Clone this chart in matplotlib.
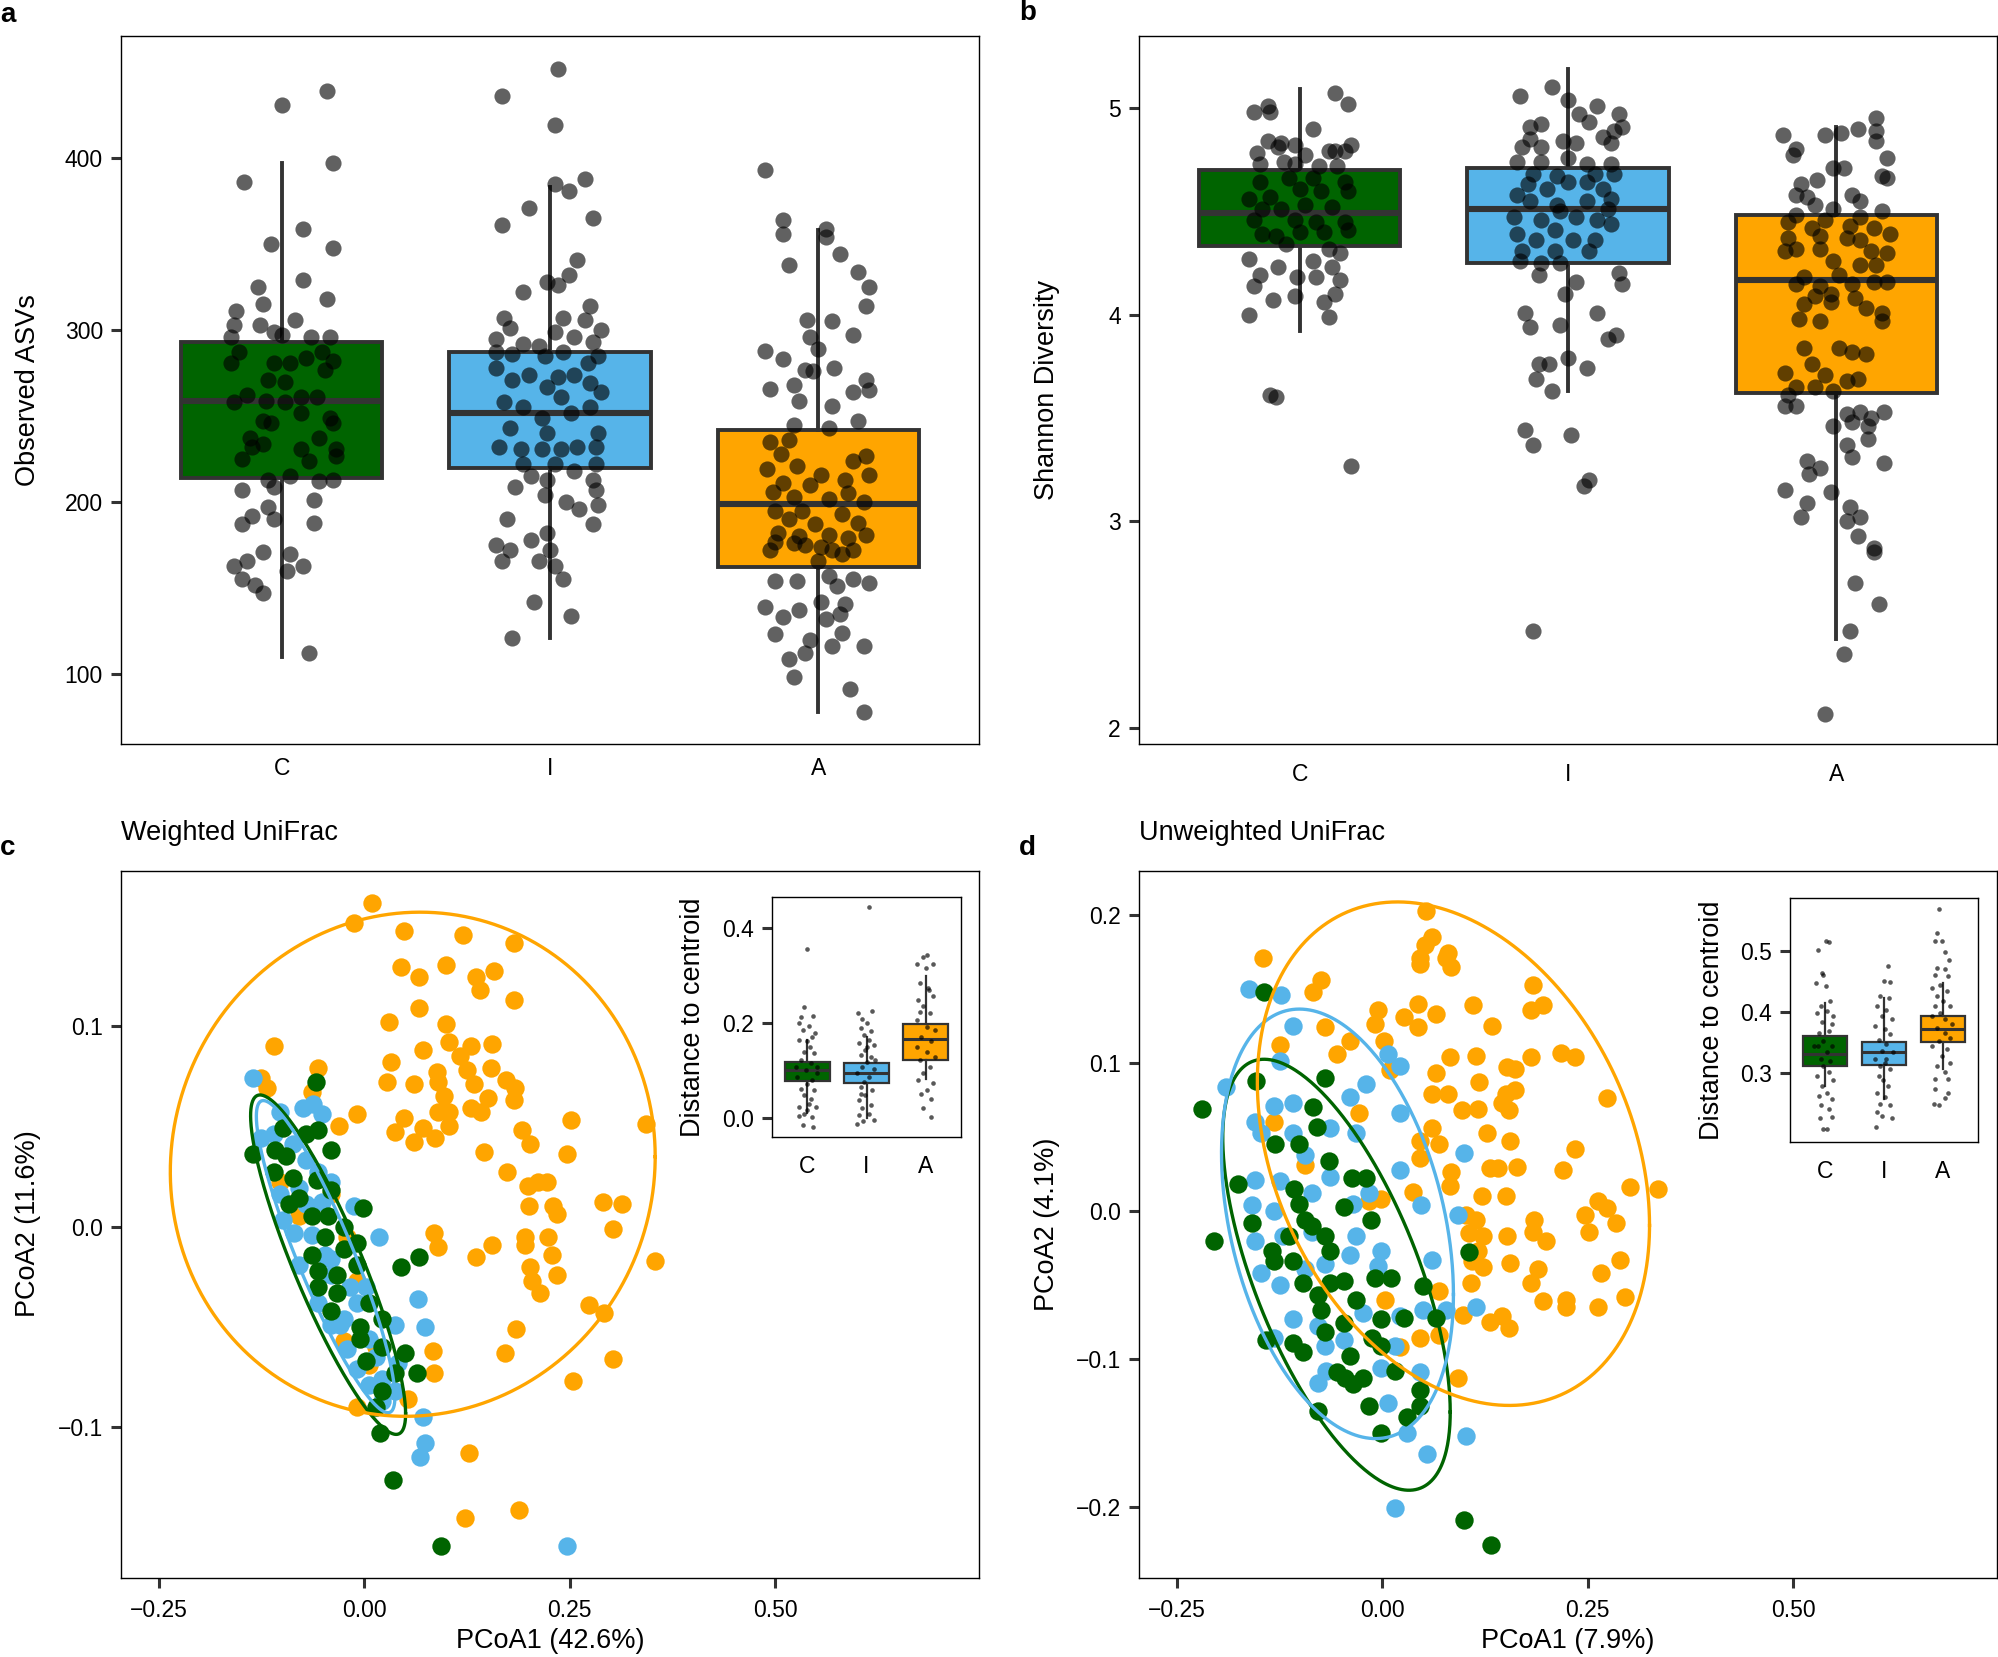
import numpy as np
import matplotlib.pyplot as plt

plt.rcParams['font.family'] = ['Liberation Sans', 'DejaVu Sans']

W, H = 1998, 1657
groups = ["C", "I", "A"]
colors = ["#006400", "#56B4E9", "#FFA500"]
edge = "#333333"

# box statistics per group: (lower whisker, q1, median, q3, upper whisker)
asv_box = [(110, 214, 259, 293, 397), (121, 220, 252, 287, 383), (78, 162, 199, 242, 358)]
shan_box = [(3.92, 4.33, 4.49, 4.70, 5.09), (3.63, 4.25, 4.51, 4.71, 5.19), (2.43, 3.62, 4.17, 4.48, 4.91)]
wdist_box = [(0.01, 0.078, 0.101, 0.118, 0.164), (0.0, 0.073, 0.094, 0.115, 0.17), (0.083, 0.123, 0.166, 0.197, 0.299)]
udist_box = [(0.279, 0.311, 0.331, 0.360, 0.415), (0.258, 0.314, 0.335, 0.351, 0.423), (0.307, 0.351, 0.372, 0.393, 0.448)]

# samples as (jitter, value)
asv_C = [(0.00,431),(0.17,439),(0.19,397),(-0.14,386),(0.08,359),(-0.04,350),(0.19,348),(0.08,329),(-0.09,325),(-0.07,315),(0.17,318),(-0.17,311),(0.05,306),(-0.18,303),(-0.08,303),(-0.19,296),(-0.03,299),(0.00,297),(0.11,296),(0.18,296),(-0.16,287),(0.15,287),(-0.19,281),(-0.03,281),(0.03,281),(0.09,284),(0.19,282),(-0.05,271),(0.01,270),(0.16,277),(-0.13,262),(-0.18,258),(-0.06,259),(0.01,258),(0.07,261),(0.13,261),(0.18,249),(-0.07,247),(0.07,252),(0.19,246),(-0.04,246),(-0.12,237),(0.14,237),(-0.11,232),(-0.07,234),(0.07,231),(0.20,231),(-0.15,225),(0.10,224),(0.20,227),(0.03,215),(-0.05,213),(0.19,213),(0.14,212),(-0.15,207),(-0.03,209),(0.12,201),(-0.05,197),(-0.11,192),(-0.15,187),(-0.03,190),(0.12,188),(-0.07,171),(0.03,170),(-0.18,163),(-0.13,166),(0.08,163),(0.02,160),(-0.15,155),(-0.10,152),(-0.07,147),(0.10,112)]
asv_I = [(0.03,452),(-0.18,436),(0.02,419),(0.13,388),(0.02,385),(0.07,381),(-0.08,371),(-0.18,361),(0.16,365),(0.10,341),(0.07,332),(-0.01,328),(0.03,326),(-0.10,322),(0.15,314),(0.05,307),(0.13,306),(-0.17,307),(0.19,300),(-0.15,301),(0.02,299),(-0.20,295),(0.09,296),(-0.10,292),(-0.04,291),(0.16,293),(-0.20,287),(-0.14,286),(0.18,285),(-0.02,285),(0.05,287),(0.14,281),(-0.20,278),(-0.08,274),(0.03,273),(0.09,274),(-0.14,271),(-0.01,267),(0.19,264),(0.15,269),(-0.17,258),(-0.10,255),(0.04,261),(0.15,255),(-0.03,249),(0.08,252),(-0.15,243),(-0.01,240),(0.18,240),(-0.19,232),(-0.11,231),(-0.03,231),(0.04,231),(0.10,232),(0.17,232),(-0.10,222),(0.02,222),(0.09,218),(0.17,222),(-0.07,215),(-0.01,213),(0.16,213),(-0.13,209),(-0.02,204),(0.17,207),(0.06,200),(0.18,198),(0.11,196),(-0.16,190),(0.16,187),(-0.01,182),(-0.20,175),(-0.15,172),(-0.07,178),(0.00,172),(-0.04,166),(-0.18,166),(0.02,163),(0.05,155),(-0.06,142),(0.08,134),(-0.14,121)]
asv_A = [(-0.20,393),(-0.13,364),(-0.13,356),(0.03,359),(0.03,354),(0.08,344),(-0.11,338),(0.15,334),(0.19,325),(0.18,314),(-0.04,306),(0.05,305),(0.13,297),(-0.03,296),(0.00,289),(-0.20,288),(-0.13,283),(-0.05,277),(-0.02,276),(0.06,278),(0.18,271),(-0.18,266),(-0.09,268),(0.13,264),(0.19,265),(-0.07,259),(0.05,256),(0.15,247),(-0.09,245),(0.04,243),(-0.11,236),(-0.18,235),(0.18,227),(-0.14,228),(0.13,224),(-0.19,219),(-0.08,221),(0.01,216),(0.19,216),(-0.13,211),(-0.03,210),(0.10,213),(-0.17,206),(-0.09,203),(0.04,202),(0.11,205),(0.17,200),(-0.16,195),(-0.06,195),(0.09,193),(-0.11,190),(-0.01,187),(0.15,188),(-0.15,182),(-0.07,180),(0.04,181),(0.11,179),(0.18,181),(-0.16,177),(-0.09,176),(0.01,174),(0.09,170),(-0.18,172),(-0.05,175),(0.05,172),(0.13,172),(0.00,166),(-0.08,154),(-0.16,154),(0.07,151),(0.19,153),(0.04,157),(0.13,155),(-0.20,139),(-0.07,137),(0.01,142),(0.10,141),(-0.13,133),(0.03,132),(0.08,135),(-0.16,123),(0.09,124),(-0.03,120),(0.05,116),(0.17,116),(-0.05,112),(-0.11,109),(-0.09,98),(0.12,91),(0.17,78)]

shan_C = [(0.13,5.07),(0.18,5.02),(-0.12,5.01),(-0.17,4.98),(-0.11,4.98),(0.05,4.90),(-0.12,4.84),(-0.07,4.83),(-0.02,4.82),(0.19,4.82),(-0.16,4.78),(-0.08,4.81),(0.13,4.79),(0.02,4.77),(0.11,4.79),(0.17,4.79),(-0.15,4.73),(-0.06,4.74),(-0.02,4.73),(0.07,4.72),(0.14,4.72),(-0.15,4.64),(-0.04,4.66),(0.05,4.66),(0.17,4.64),(-0.19,4.56),(-0.11,4.57),(0.00,4.61),(0.08,4.60),(0.18,4.60),(-0.14,4.51),(-0.07,4.51),(0.02,4.53),(0.12,4.52),(-0.17,4.46),(-0.02,4.46),(0.06,4.45),(0.17,4.45),(-0.14,4.39),(-0.09,4.38),(0.00,4.40),(0.09,4.40),(0.18,4.41),(-0.05,4.34),(0.11,4.32),(-0.19,4.27),(0.15,4.30),(0.05,4.26),(-0.08,4.23),(0.12,4.23),(-0.15,4.19),(-0.01,4.18),(0.06,4.18),(0.15,4.17),(-0.17,4.14),(0.13,4.10),(-0.02,4.09),(-0.10,4.07),(0.09,4.06),(-0.19,4.00),(0.11,3.99),(-0.11,3.61),(-0.09,3.60),(0.19,3.27)]
shan_I = [(-0.06,5.10),(-0.18,5.06),(0.00,5.04),(0.11,5.01),(0.04,4.97),(0.19,4.97),(-0.14,4.91),(-0.10,4.92),(0.08,4.93),(0.17,4.89),(0.20,4.91),(-0.14,4.85),(-0.02,4.84),(0.13,4.86),(-0.17,4.81),(-0.10,4.81),(0.03,4.83),(0.16,4.83),(-0.19,4.74),(-0.10,4.74),(0.00,4.76),(0.07,4.73),(0.16,4.73),(-0.13,4.68),(-0.04,4.67),(0.10,4.68),(0.17,4.68),(-0.19,4.58),(-0.15,4.63),(-0.08,4.61),(0.00,4.64),(0.07,4.64),(0.13,4.61),(0.16,4.56),(-0.14,4.55),(-0.04,4.53),(0.07,4.55),(0.15,4.51),(-0.20,4.47),(-0.10,4.46),(-0.03,4.50),(0.03,4.47),(0.11,4.46),(0.16,4.44),(-0.19,4.39),(-0.12,4.36),(-0.05,4.41),(0.02,4.36),(0.10,4.36),(-0.17,4.31),(-0.05,4.31),(0.08,4.31),(-0.18,4.26),(-0.10,4.25),(-0.03,4.25),(-0.11,4.19),(0.03,4.16),(0.19,4.20),(0.20,4.15),(-0.01,4.10),(-0.16,4.01),(0.11,4.01),(-0.14,3.94),(-0.03,3.95),(0.18,3.90),(0.15,3.88),(0.00,3.79),(-0.11,3.76),(-0.07,3.76),(0.07,3.74),(-0.12,3.69),(-0.06,3.63),(-0.16,3.44),(-0.13,3.37),(0.01,3.42),(0.08,3.20),(0.06,3.17),(-0.13,2.47)]
shan_A = [(0.15,4.95),(0.15,4.89),(-0.20,4.87),(-0.04,4.87),(0.02,4.88),(0.08,4.90),(0.15,4.84),(-0.15,4.80),(-0.16,4.77),(0.19,4.76),(-0.01,4.71),(0.03,4.71),(0.17,4.67),(0.19,4.66),(-0.13,4.63),(-0.07,4.65),(-0.15,4.58),(-0.11,4.57),(0.06,4.58),(0.09,4.55),(-0.08,4.53),(-0.01,4.51),(0.17,4.50),(-0.15,4.48),(-0.04,4.46),(0.09,4.47),(-0.18,4.45),(-0.09,4.42),(0.05,4.43),(0.14,4.42),(0.20,4.39),(-0.18,4.37),(-0.06,4.38),(0.04,4.37),(0.09,4.36),(-0.15,4.32),(-0.19,4.31),(-0.06,4.32),(0.13,4.31),(0.19,4.30),(-0.01,4.26),(0.09,4.24),(0.15,4.24),(-0.12,4.18),(0.01,4.19),(0.19,4.16),(-0.15,4.15),(-0.06,4.14),(0.06,4.15),(0.14,4.16),(-0.02,4.10),(-0.12,4.05),(-0.02,4.06),(0.07,4.08),(-0.08,4.09),(0.11,4.03),(0.17,4.01),(-0.14,3.98),(-0.06,3.97),(0.17,3.97),(-0.12,3.84),(0.01,3.84),(0.06,3.82),(0.11,3.81),(-0.09,3.76),(-0.19,3.72),(-0.04,3.71),(0.08,3.69),(-0.15,3.65),(-0.08,3.65),(0.04,3.68),(-0.18,3.61),(-0.01,3.63),(-0.19,3.56),(-0.15,3.56),(0.09,3.53),(0.04,3.52),(0.18,3.53),(0.13,3.50),(-0.01,3.46),(0.06,3.48),(0.12,3.46),(0.04,3.37),(0.12,3.40),(0.06,3.31),(-0.11,3.29),(0.18,3.28),(-0.06,3.26),(-0.10,3.23),(-0.19,3.15),(-0.02,3.14),(-0.11,3.09),(-0.13,3.02),(0.05,3.07),(0.09,3.02),(0.04,3.00),(0.08,2.93),(0.14,2.87),(0.14,2.85),(0.07,2.70),(0.16,2.60),(0.05,2.47),(0.03,2.36),(-0.04,2.07)]

# PCoA coordinates (PCoA1, PCoA2)
wu_C = [(-0.059,0.072),(-0.056,0.048),(-0.099,0.049),(-0.040,0.038),(-0.109,0.038),(-0.135,0.036),(-0.110,0.027),(-0.058,0.023),(-0.087,0.024),(-0.040,0.018),(-0.091,0.011),(-0.002,0.009),(-0.064,0.005),(-0.025,0.000),(-0.048,-0.005),(-0.025,-0.011),(0.067,-0.015),(0.045,-0.020),(-0.056,-0.022),(-0.033,-0.024),(-0.009,-0.019),(-0.056,-0.030),(0.006,-0.038),(-0.040,-0.042),(-0.005,-0.050),(0.022,-0.060),(-0.005,-0.056),(0.002,-0.067),(0.064,-0.073),(0.050,-0.063),(0.022,-0.082),(0.019,-0.103),(0.035,-0.126),(0.093,-0.159),(-0.064,-0.014),(-0.079,0.014),(-0.095,0.035),(-0.009,-0.008),(-0.033,-0.033),(0.022,-0.046),(0.037,-0.073),(0.014,-0.090),(-0.071,0.046),(-0.044,0.005)]
wu_I = [(-0.135,0.074),(-0.062,0.061),(-0.074,0.059),(-0.052,0.056),(-0.110,0.046),(-0.126,0.044),(-0.087,0.041),(-0.071,0.033),(-0.056,0.027),(-0.102,0.016),(-0.079,0.019),(-0.040,0.022),(-0.085,-0.003),(-0.064,-0.004),(-0.048,-0.014),(0.018,-0.005),(-0.079,-0.019),(-0.040,-0.024),(-0.017,-0.030),(-0.056,-0.038),(-0.025,-0.046),(-0.040,-0.049),(0.006,-0.056),(0.014,-0.065),(-0.029,-0.049),(-0.009,-0.071),(0.006,-0.079),(0.037,-0.082),(0.022,-0.087),(0.065,-0.036),(0.074,-0.050),(0.041,-0.068),(0.072,-0.095),(0.074,-0.108),(0.068,-0.115),(0.247,-0.159),(-0.013,0.010),(-0.052,0.012),(-0.099,0.003),(-0.040,-0.016),(-0.009,-0.038),(0.022,-0.076),(-0.102,0.057),(-0.071,0.011),(0.002,-0.030),(0.037,-0.049),(-0.021,-0.061)]
wu_A = [(0.009,0.161),(-0.012,0.151),(0.048,0.147),(0.120,0.145),(0.182,0.141),(0.045,0.129),(0.100,0.130),(0.067,0.124),(0.136,0.124),(0.158,0.127),(0.141,0.118),(0.182,0.113),(0.067,0.109),(0.030,0.102),(0.099,0.101),(-0.110,0.090),(0.071,0.088),(0.103,0.092),(0.130,0.090),(0.155,0.091),(0.116,0.085),(0.033,0.082),(0.125,0.078),(0.088,0.077),(0.154,0.079),(-0.126,0.074),(-0.056,0.079),(0.028,0.072),(0.061,0.071),(0.090,0.072),(0.134,0.071),(0.173,0.073),(0.183,0.069),(-0.118,0.069),(0.097,0.065),(0.150,0.064),(0.182,0.063),(-0.064,0.067),(-0.009,0.056),(0.048,0.054),(0.090,0.057),(0.103,0.057),(0.130,0.059),(0.142,0.057),(0.252,0.053),(-0.031,0.050),(0.038,0.047),(0.072,0.049),(0.103,0.050),(0.192,0.048),(0.343,0.051),(0.061,0.042),(0.086,0.044),(0.202,0.041),(0.146,0.037),(0.247,0.036),(0.174,0.027),(0.199,0.020),(0.212,0.022),(0.222,0.022),(0.200,0.010),(0.230,0.010),(0.235,0.006),(0.290,0.012),(0.313,0.011),(0.303,-0.001),(0.085,-0.003),(0.090,-0.010),(0.136,-0.015),(0.155,-0.009),(0.196,-0.005),(0.196,-0.009),(0.224,-0.005),(0.228,-0.014),(0.354,-0.017),(0.202,-0.020),(0.234,-0.024),(0.204,-0.027),(0.214,-0.033),(0.274,-0.039),(0.292,-0.043),(0.185,-0.051),(0.084,-0.062),(0.171,-0.063),(0.303,-0.066),(0.085,-0.073),(0.254,-0.077),(0.128,-0.113),(0.123,-0.145),(0.188,-0.141),(-0.102,0.022),(-0.079,0.005),(-0.021,-0.005),(-0.009,-0.027),(-0.025,-0.057),(-0.040,0.016),(0.014,-0.060),(-0.009,-0.090),(0.053,-0.086),(0.006,-0.069)]

uu_C = [(-0.219,0.069),(-0.144,0.148),(-0.070,0.090),(-0.154,0.088),(-0.084,0.070),(-0.080,0.057),(-0.130,0.045),(-0.101,0.045),(-0.065,0.034),(-0.176,0.018),(-0.107,0.015),(-0.037,0.022),(-0.020,0.022),(-0.101,0.005),(-0.047,0.003),(-0.014,-0.006),(-0.159,-0.008),(-0.205,-0.020),(-0.134,-0.027),(-0.086,-0.010),(-0.070,-0.017),(-0.132,-0.034),(-0.063,-0.027),(-0.109,-0.034),(-0.047,-0.047),(-0.097,-0.049),(-0.063,-0.049),(-0.009,-0.045),(0.011,-0.045),(0.049,-0.051),(-0.078,-0.057),(-0.074,-0.067),(-0.032,-0.060),(-0.001,-0.073),(0.026,-0.072),(0.065,-0.072),(-0.142,-0.087),(-0.109,-0.089),(-0.070,-0.082),(-0.097,-0.095),(-0.039,-0.098),(-0.001,-0.091),(-0.055,-0.109),(-0.024,-0.113),(0.015,-0.108),(0.046,-0.121),(-0.036,-0.117),(-0.078,-0.135),(-0.016,-0.132),(0.030,-0.139),(-0.001,-0.150),(0.046,-0.132),(0.106,-0.028),(0.100,-0.209),(0.132,-0.226),(-0.045,-0.113),(-0.094,-0.006),(-0.113,-0.017),(-0.047,-0.076),(-0.012,-0.086)]
uu_I = [(-0.162,0.150),(-0.123,0.146),(-0.109,0.125),(-0.125,0.101),(-0.190,0.084),(-0.109,0.073),(-0.155,0.060),(-0.148,0.053),(-0.039,0.077),(-0.020,0.086),(0.007,0.106),(0.021,0.098),(0.021,0.066),(-0.063,0.056),(-0.032,0.053),(-0.109,0.053),(-0.094,0.038),(-0.155,0.021),(-0.125,0.020),(0.022,0.028),(0.100,0.039),(-0.159,0.004),(-0.132,0.000),(-0.086,0.012),(-0.036,0.005),(-0.016,0.012),(0.047,0.004),(0.092,-0.003),(-0.155,-0.020),(-0.121,-0.017),(-0.148,-0.042),(-0.125,-0.050),(-0.094,-0.039),(-0.039,-0.030),(-0.001,-0.027),(-0.005,-0.037),(0.061,-0.033),(-0.070,-0.036),(-0.109,-0.073),(-0.078,-0.078),(-0.024,-0.069),(0.022,-0.071),(0.049,-0.067),(0.077,-0.067),(-0.132,-0.086),(-0.070,-0.091),(-0.047,-0.087),(-0.001,-0.106),(0.015,-0.091),(0.046,-0.109),(-0.069,-0.108),(-0.078,-0.116),(0.007,-0.130),(0.030,-0.150),(0.055,-0.164),(0.102,-0.152),(0.015,-0.201),(0.114,-0.065),(-0.032,-0.017),(-0.086,-0.014),(-0.132,0.071),(-0.063,0.023)]
uu_A = [(0.053,0.203),(0.061,0.185),(0.052,0.180),(0.080,0.174),(0.077,0.171),(0.046,0.171),(0.084,0.165),(0.046,0.167),(-0.145,0.171),(-0.074,0.156),(-0.084,0.148),(0.183,0.153),(0.196,0.139),(0.181,0.136),(0.043,0.140),(0.065,0.133),(-0.005,0.136),(0.111,0.139),(0.133,0.125),(0.026,0.131),(0.043,0.124),(-0.009,0.126),(0.002,0.115),(-0.125,0.112),(-0.070,0.124),(-0.039,0.115),(-0.055,0.106),(0.083,0.104),(0.114,0.105),(0.181,0.104),(0.217,0.107),(0.235,0.104),(0.009,0.095),(0.065,0.093),(0.152,0.097),(0.162,0.096),(0.118,0.087),(0.061,0.079),(0.080,0.079),(0.150,0.079),(0.162,0.082),(0.274,0.076),(-0.028,0.066),(0.097,0.068),(0.117,0.069),(0.154,0.068),(0.146,0.073),(0.061,0.056),(0.127,0.053),(0.046,0.047),(0.069,0.045),(0.156,0.047),(0.234,0.042),(0.046,0.036),(0.220,0.028),(0.084,0.026),(0.131,0.029),(0.141,0.029),(0.164,0.030),(0.301,0.016),(0.336,0.015),(0.083,0.017),(0.121,0.010),(0.150,0.010),(0.038,0.013),(-0.016,0.007),(-0.001,0.008),(0.262,0.007),(0.274,0.002),(0.247,-0.003),(0.285,-0.008),(0.102,-0.003),(0.114,-0.006),(0.185,-0.006),(0.183,-0.014),(0.251,-0.014),(0.199,-0.020),(0.106,-0.015),(0.123,-0.017),(0.152,-0.017),(0.117,-0.027),(0.156,-0.035),(0.109,-0.034),(0.123,-0.038),(0.189,-0.039),(0.181,-0.049),(0.266,-0.042),(0.289,-0.033),(0.108,-0.049),(0.003,-0.060),(0.069,-0.054),(0.195,-0.061),(0.224,-0.060),(0.224,-0.065),(0.262,-0.065),(0.295,-0.058),(0.098,-0.070),(0.131,-0.075),(0.154,-0.079),(0.146,-0.071),(0.046,-0.086),(0.069,-0.084),(0.022,-0.092),(0.092,-0.113),(-0.132,0.060),(-0.094,0.031)]

# confidence ellipses: (centre x, centre y, half-extent x, half-extent y, correlation)
wu_ell = [(-0.044, -0.019, 0.0943, 0.0845, -0.878), (-0.047, -0.015, 0.0843, 0.0777, -0.899), (0.059, 0.031, 0.295, 0.1255, 0.03)]
uu_ell = [(-0.0557, -0.0431, 0.1384, 0.1456, -0.637), (-0.0545, -0.0087, 0.1411, 0.1451, -0.329), (0.0866, 0.0387, 0.2386, 0.1701, -0.285)]

# distance to centroid, (jitter, value)
wdist_C = [(0,0.356),(-0.06,0.234),(-0.11,0.213),(0.10,0.215),(-0.14,0.199),(0.03,0.194),(-0.08,0.185),(0.13,0.178),(0.08,0.171),(0,0.161),(-0.14,0.164),(0.04,0.150),(-0.06,0.139),(0.11,0.136),(-0.11,0.122),(0.06,0.115),(0.17,0.108),(-0.03,0.101),(-0.17,0.087),(0.08,0.080),(0,0.071),(-0.11,0.062),(0.11,0.058),(-0.06,0.048),(0.06,0.041),(-0.14,0.023),(0,0.016),(0.14,0.023),(-0.06,0.009),(-0.14,0.004),(0.08,0.002),(-0.08,-0.015),(0.10,-0.020),(0.03,0.030),(0.17,0.094),(-0.20,0.108)]
wdist_I = [(0.04,0.444),(0.10,0.226),(-0.15,0.220),(-0.07,0.208),(0.01,0.199),(-0.10,0.189),(0.07,0.182),(-0.04,0.175),(0.04,0.164),(-0.13,0.158),(0.12,0.154),(-0.02,0.143),(-0.10,0.132),(0.07,0.129),(0.01,0.118),(-0.07,0.108),(0.12,0.104),(-0.16,0.094),(0.04,0.087),(-0.04,0.076),(-0.10,0.065),(0.10,0.058),(-0.02,0.048),(-0.13,0.037),(0.07,0.027),(-0.07,0.020),(0.04,0.009),(-0.13,0.006),(0.12,-0.005),(-0.06,-0.006),(-0.16,-0.012),(0,0.150),(0.15,0.122),(-0.10,0.051)]
wdist_A = [(0.02,0.342),(-0.04,0.339),(-0.14,0.325),(0.12,0.325),(0,0.315),(-0.10,0.284),(0.04,0.273),(-0.12,0.249),(0.13,0.256),(-0.04,0.235),(0.07,0.220),(-0.15,0.206),(0.02,0.192),(0.16,0.185),(-0.07,0.171),(0.10,0.161),(-0.15,0.150),(0.02,0.139),(0.16,0.129),(-0.10,0.122),(0.07,0.108),(-0.04,0.094),(-0.12,0.080),(0.13,0.073),(0.02,0.058),(-0.07,0.051),(0.10,0.041),(-0.04,0.020),(0.10,0.002),(0.06,0.270),(-0.10,0.224)]
udist_C = [(0.01,0.517),(0.06,0.515),(-0.13,0.502),(-0.06,0.464),(-0.03,0.460),(-0.15,0.447),(0.01,0.443),(-0.08,0.410),(0.08,0.418),(-0.14,0.399),(0.03,0.402),(0.13,0.393),(-0.06,0.383),(0.11,0.380),(-0.11,0.366),(0.06,0.369),(-0.03,0.353),(-0.13,0.345),(0.11,0.345),(0.03,0.334),(-0.08,0.323),(0.08,0.320),(-0.03,0.312),(-0.14,0.296),(0.06,0.301),(0.14,0.288),(-0.06,0.279),(-0.11,0.263),(0.03,0.268),(0.11,0.258),(-0.08,0.247),(0.06,0.241),(-0.09,0.226),(0.11,0.228),(-0.03,0.209),(0.03,0.208),(-0.19,0.345)]
udist_I = [(0.07,0.476),(0,0.451),(0.10,0.449),(-0.07,0.426),(0.09,0.423),(-0.12,0.410),(0.04,0.404),(-0.04,0.393),(0.13,0.388),(-0.15,0.377),(0.02,0.372),(0.10,0.364),(-0.09,0.355),(0.04,0.347),(-0.04,0.336),(0.15,0.334),(-0.15,0.323),(0.02,0.317),(0.10,0.307),(-0.09,0.296),(-0.01,0.288),(0.07,0.279),(-0.12,0.268),(0.02,0.260),(-0.07,0.249),(0.10,0.247),(-0.12,0.236),(-0.04,0.230),(0.13,0.226),(-0.13,0.211),(0.04,0.323),(-0.07,0.312)]
udist_A = [(-0.07,0.569),(-0.10,0.530),(-0.14,0.516),(-0.02,0.516),(0.04,0.499),(0.10,0.486),(-0.10,0.472),(0.04,0.470),(-0.13,0.461),(0.09,0.459),(-0.04,0.445),(-0.18,0.440),(0.07,0.434),(-0.10,0.426),(0.01,0.418),(-0.13,0.410),(0.12,0.410),(-0.04,0.399),(-0.18,0.393),(0.04,0.388),(0.15,0.380),(-0.10,0.374),(0.04,0.366),(0.12,0.358),(-0.07,0.353),(-0.18,0.345),(0.07,0.339),(-0.02,0.328),(0.12,0.317),(-0.10,0.312),(0.04,0.301),(-0.13,0.290),(0.09,0.290),(-0.14,0.274),(0.03,0.259),(-0.15,0.249),(-0.07,0.247),(0.09,0.268)]


def px_axes(fig, left, top, right, bottom):
    return fig.add_axes([left / W, 1 - bottom / H, (right - left) / W, (bottom - top) / H])


def style(ax, fs=16.5):
    for s in ax.spines.values():
        s.set_linewidth(1.0)
        s.set_color("black")
    ax.tick_params(axis="y", length=7.5, width=2.2, color=edge, labelsize=fs, pad=5.5)
    ax.tick_params(axis="x", length=7.5, width=2.2, color=edge, labelsize=fs, pad=7.5)


def box_panel(ax, stats, samples, lw, med_lw, s, alpha, xpad):
    st = [dict(whislo=a, q1=b, med=c, q3=d, whishi=e, fliers=[]) for (a, b, c, d, e) in stats]
    bp = ax.bxp(st, positions=[1, 2, 3], widths=0.75, showcaps=False, showfliers=False,
                patch_artist=True,
                boxprops=dict(edgecolor=edge, linewidth=lw),
                medianprops=dict(color=edge, linewidth=med_lw),
                whiskerprops=dict(color=edge, linewidth=lw))
    for patch, c in zip(bp["boxes"], colors):
        patch.set_facecolor(c)
    for i, g in enumerate(samples):
        jit = np.array([p[0] for p in g])
        val = np.array([p[1] for p in g])
        ax.scatter(jit + i + 1, val, s=s, color="black", alpha=alpha, linewidths=0, zorder=4)
    ax.set_xlim(0.4, 3.6)
    ax.set_xticks([1, 2, 3])
    ax.set_xticklabels(groups)
    ax.tick_params(axis="x", length=0, pad=xpad)


def pcoa_panel(ax, samples, ells):
    for g in [2, 1, 0]:
        x = [p[0] for p in samples[g]]
        y = [p[1] for p in samples[g]]
        ax.scatter(x, y, s=175, color=colors[g], linewidths=0, zorder=2)
    t = np.linspace(0, 2 * np.pi, 400)
    for (cx, cy, sx, sy, r), c in zip(ells, colors):
        cov = np.array([[sx * sx, r * sx * sy], [r * sx * sy, sy * sy]])
        L = np.linalg.cholesky(cov)
        xy = L @ np.vstack([np.cos(t), np.sin(t)])
        ax.plot(cx + xy[0], cy + xy[1], color=c, lw=2.4, zorder=3)
    ax.set_xlim(-0.296, 0.748)
    ax.set_xticks([-0.25, 0, 0.25, 0.5])
    ax.set_xticklabels(["\u22120.25", "0.00", "0.25", "0.50"])


def label(fig, x, y, text, size=19.5, rot=0, ha="center", weight="normal"):
    fig.text(x / W, 1 - y / H, text, fontsize=size, rotation=rot, ha=ha, va="center",
             fontweight=weight)


fig = plt.figure(figsize=(W / 100, H / 100), dpi=100)

# a
ax = px_axes(fig, 121, 36, 979, 744)
style(ax)
box_panel(ax, asv_box, [asv_C, asv_I, asv_A], 2.8, 4.4, 135, 0.62, 9.5)
ax.set_ylim(59.3, 471)
ax.set_yticks([100, 200, 300, 400])
label(fig, 28, 390, "Observed ASVs", rot=90)

# b
ax = px_axes(fig, 1139, 36, 1997, 744)
style(ax)
box_panel(ax, shan_box, [shan_C, shan_I, shan_A], 2.8, 4.4, 135, 0.62, 14)
ax.set_ylim(1.923, 5.348)
ax.set_yticks([2, 3, 4, 5])
label(fig, 1047, 390, "Shannon Diversity", rot=90)

# c
ax = px_axes(fig, 121, 871, 979, 1578)
style(ax)
pcoa_panel(ax, [wu_C, wu_I, wu_A], wu_ell)
ax.set_ylim(-0.175, 0.177)
ax.set_yticks([-0.1, 0, 0.1])
ax.set_yticklabels(["\u22120.1", "0.0", "0.1"])
label(fig, 28, 1224, "PCoA2 (11.6%)", rot=90)
label(fig, 550, 1641, "PCoA1 (42.6%)")
label(fig, 121, 833, "Weighted UniFrac", ha="left")

ins = px_axes(fig, 772, 897, 961, 1137)
style(ins)
box_panel(ins, wdist_box, [wdist_C, wdist_I, wdist_A], 1.6, 2.2, 11, 0.65, 13)
ins.set_ylim(-0.04, 0.465)
ins.set_yticks([0, 0.2, 0.4])
ins.set_yticklabels(["0.0", "0.2", "0.4"])
label(fig, 693, 1017, "Distance to centroid", rot=90)

# d
ax = px_axes(fig, 1139, 871, 1997, 1578)
style(ax)
pcoa_panel(ax, [uu_C, uu_I, uu_A], uu_ell)
ax.set_ylim(-0.248, 0.2297)
ax.set_yticks([-0.2, -0.1, 0, 0.1, 0.2])
ax.set_yticklabels(["\u22120.2", "\u22120.1", "0.0", "0.1", "0.2"])
label(fig, 1047, 1224, "PCoA2 (4.1%)", rot=90)
label(fig, 1568, 1641, "PCoA1 (7.9%)")
label(fig, 1139, 833, "Unweighted UniFrac", ha="left")

ins = px_axes(fig, 1790, 898, 1978, 1142)
style(ins)
box_panel(ins, udist_box, [udist_C, udist_I, udist_A], 1.6, 2.2, 11, 0.65, 13)
ins.set_ylim(0.187, 0.587)
ins.set_yticks([0.3, 0.4, 0.5])
label(fig, 1712, 1020, "Distance to centroid", rot=90)

# panel letters
label(fig, 0, 15, "a", size=20, ha="left", weight="bold")
label(fig, 1019, 13, "b", size=20, ha="left", weight="bold")
label(fig, 0, 848, "c", size=20, ha="left", weight="bold")
label(fig, 1019, 848, "d", size=20, ha="left", weight="bold")

fig.savefig("out.png", dpi=100)
